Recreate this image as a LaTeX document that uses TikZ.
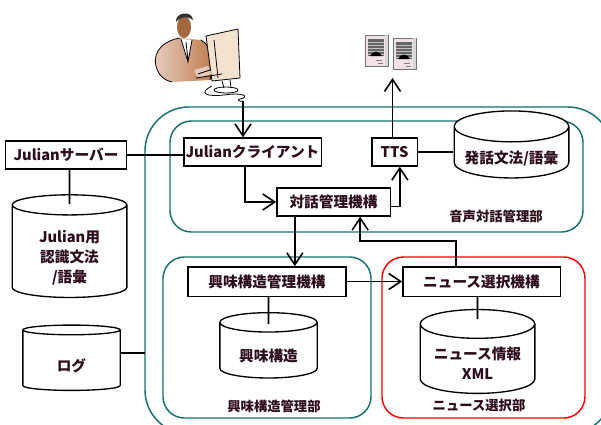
\documentclass[tikz,border=0pt]{standalone}
\usepackage{fontspec}
\setmainfont{Noto Sans CJK JP}
\usetikzlibrary{arrows.meta,positioning,shapes.geometric,calc}

\definecolor{ink}{RGB}{45,12,28}
\definecolor{unitteal}{RGB}{22,112,112}
\definecolor{skin}{RGB}{190,122,78}
\definecolor{screen}{RGB}{243,226,208}
\definecolor{spkbody}{RGB}{240,226,228}

% text of a data store sits low in the drum
\newcommand{\drumtext}[1]{\raisebox{-5pt}[\height][\depth]{\begin{tabular}{@{}c@{}}#1\end{tabular}}}

\begin{document}
\begin{tikzpicture}[x=0.75pt, y=-0.75pt, line width=1.2pt, >={Straight Barb[length=9pt,width=12pt]},
  box/.style={draw, line width=1pt, fill=white, text=ink, font=\fontsize{11}{13}\selectfont\bfseries, minimum height=21pt, inner sep=0pt},
  db/.style={cylinder, shape border rotate=90, aspect=0.33, draw, line width=1pt, fill=white, text=ink, font=\fontsize{11}{15}\selectfont\bfseries, inner sep=0pt},
  unit/.style={draw=unitteal, line width=1.1pt, rounded corners=16pt},
  lab/.style={text=ink, font=\fontsize{10}{12}\selectfont\bfseries}]
\clip (0,0) rectangle (601,425);

% frames of the three units
\draw[unit, rounded corners=33pt] (145,107) rectangle (612,434);
\draw[unit] (170,121) rectangle (583,232);
\draw[unit] (163,257) rectangle (371,418);
\draw[unit, draw=red] (382,257) rectangle (585,418);
\node[lab] (voicelab) at (496,216) {音声対話管理部};
\node[lab] (intlab) at (274,406) {興味構造管理部};
\node[lab] (newslab) at (479,405) {ニュース選択部};

% user at the terminal
\begin{scope}[line width=0.6pt]
  \shade[left color=skin!35, right color=skin] (156,66) .. controls (152,50) and (166,40) .. (180,38)
    -- (201,40) .. controls (212,46) and (214,62) .. (210,80) -- (172,82) .. controls (163,80) and (158,74) .. (156,66) -- cycle;
  \draw (156,66) .. controls (152,50) and (166,40) .. (180,38) (201,40) .. controls (212,46) and (214,62) .. (210,80)
    (172,82) .. controls (163,80) and (158,74) .. (156,66);
  \fill[white] (181,39) -- (192,40) -- (188,62) -- cycle;
  \draw (181,39) -- (188,62) -- (192,40) (186,42) -- (188,60);
  \fill[skin!85!black] (184,27) ellipse (7 and 11);
  \fill[black!80] (176,22) .. controls (175,12) and (192,10) .. (193,20) .. controls (188,16) and (181,16) .. (176,22) -- cycle;
  \fill[screen] (206,36) -- (238,29) -- (240,78) -- (212,81) -- cycle;
  \draw (206,36) -- (238,29) (212,81) -- (240,78) (206,36) -- (212,81) (214,40) -- (218,78) (238,29) -- (240,78);
  \fill[skin!40] (194,70) -- (208,66) -- (212,74) -- (198,78) -- cycle;
  \draw (196,78) -- (222,74) (198,74) -- (210,70);
  \draw (222,81) -- (224,88) (230,80) -- (231,88);
  \draw (226,90) ellipse (12 and 3);
  \draw (212,86) .. controls (198,93) and (206,97) .. (224,95) .. controls (244,92) and (250,97) .. (240,99)
    .. controls (236,100) and (240,102) .. (243,101);
\end{scope}
\coordinate (cable) at (243,101);

% loudspeakers
\foreach \sx/\sy in {365/35, 393/38} {
  \filldraw[fill=spkbody, draw=black!55, line width=0.5pt] (\sx,\sy) rectangle ++(23,31);
  \fill[black!15] (\sx+20,\sy) rectangle ++(3,31);
  \fill[black!60] (\sx+3,\sy+4) rectangle ++(16,17);
  \foreach \k in {1,...,5} \draw[black!25, line width=0.4pt] (\sx+3,\sy+4+3*\k) -- ++(16,0);
  \fill[black] (\sx+5,\sy+21) .. controls (\sx+8,\sy+15) and (\sx+14,\sy+15) .. (\sx+17,\sy+21) -- cycle;
  \draw[black!50, line width=0.4pt] (\sx+11,\sy+25) -- ++(6,0) (\sx+13,\sy+28) -- ++(5,0);
}
\coordinate (spk) at (392.5,78);

% function blocks
\node[box, minimum width=91pt] (server) at (66,155) {Julianサーバー};
\node[box, minimum width=103pt] (client) at (252.5,152) {Julianクライアント};
\node[box, minimum width=85pt] (dm) at (333.5,202) {対話管理機構};
\node[box, minimum width=34pt] (tts) at (394.5,152) {TTS};
\node[box, minimum width=118.5pt, minimum height=22pt] (ims) at (267,281.5) {興味構造管理機構};
\node[box, minimum width=118pt, minimum height=22pt] (nsel) at (481.5,281.5) {ニュース選択機構};

% data stores
\node[db, minimum width=86pt, minimum height=38pt] (sdb) at (511.5,152.5) {\drumtext{発話文法/語彙}};
\node[db, minimum width=86pt, minimum height=77pt] (jdb) at (69.5,251.5) {\drumtext{Julian用\\認識文法\\/語彙}};
\node[db, minimum width=73pt, minimum height=49pt] (log) at (71.5,360.5) {\drumtext{ログ}};
\node[db, minimum width=73pt, minimum height=49pt] (idb) at (268.5,350.5) {\drumtext{興味構造}};
\node[db, minimum width=86pt, minimum height=51pt] (ndb) at (477.5,359) {\drumtext{ニュース情報\\XML}};
\coordinate (frameW) at (145,353);

% connections
\draw[->] (cable) -- (cable |- client.north);
\draw (server) -- (server -| client.west);
\draw (server.south -| jdb) -- ($(jdb.north)+(0,10)$);
\draw[->] ([xshift=-5.5pt]client.south) |- (dm.west);
\draw[->] ([yshift=-3.5pt]dm.east) -| ([xshift=4pt]tts.south);
\draw[->] (tts.north -| spk) -- (spk);
\draw (tts.east) -- (tts.east -| sdb.west);
\draw[->] ([xshift=-29pt]dm.south) -- ([xshift=-29pt]dm.south |- ims.north);
\draw[->] (ims) -- (nsel);
\draw[->] ([xshift=-19pt]nsel.north) -- ++(0,-25) -| ([xshift=20pt]dm.south);
\draw (ims.south -| idb) -- ($(idb.north)+(0,12)$);
\draw (nsel.south -| ndb) -- ($(ndb.north)+(0,10)$);
\draw (log.east |- frameW) -- (frameW);
\end{tikzpicture}
\end{document}
